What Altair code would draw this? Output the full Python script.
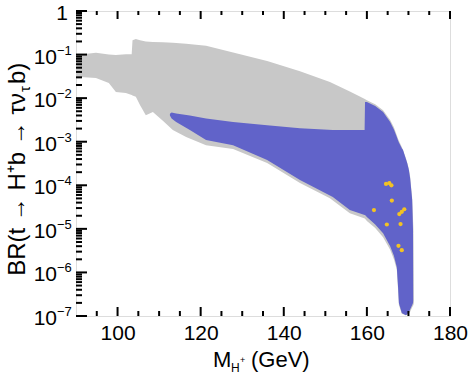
import altair as alt
import pandas as pd

# ---- data (x in GeV, y as log10 of BR) ----
gray_m = [90.0, 94.8, 97.9, 99.6, 102.0, 103.4, 103.6, 104.4, 105.4, 106.8, 108.5, 110.9,
          113.3, 116.5, 121.3, 127.8, 136.0, 143.9, 151.1, 155.9, 159.5, 160.0, 162.0,
          163.9, 165.6, 166.5, 167.2, 167.5, 167.7, 168.4, 169.4, 170.1, 170.4, 170.9,
          171.2, 171.3]
gray_lo = [-1.51, -1.54, -1.65, -1.86, -1.88, -1.93, -1.94, -1.97, -2.16, -2.39, -2.32, -2.52,
           -2.73, -2.89, -3.08, -3.17, -3.49, -3.95, -4.30, -4.64, -4.76, -4.82, -4.98,
           -5.19, -5.48, -5.70, -5.94, -6.40, -6.75, -6.95, -6.98, -6.95, -6.90, -6.80,
           -6.75, -6.70]
gray_hi = [-1.01, -0.96, -1.00, -1.01, -0.99, -0.99, -0.67, -0.64, -0.67, -0.70, -0.71, -0.72,
           -0.73, -0.75, -0.80, -0.95, -1.15, -1.38, -1.63, -1.85, -2.02, -2.05, -2.14,
           -2.28, -2.50, -2.67, -2.85, -2.93, -2.98, -3.12, -3.38, -3.62, -3.80, -4.30,
           -5.00, -6.60]

blue_m = [112.6, 113.0, 114.1, 117.4, 121.3, 127.8, 136.0, 143.9, 151.8, 155.9, 159.45, 159.55,
          160.0, 162.0, 163.9, 165.6, 166.5, 167.2, 167.5, 167.7, 168.4, 168.7, 169.4, 169.7,
          170.1, 170.4, 170.9, 171.1, 171.15]
blue_lo = [-2.40, -2.47, -2.55, -2.73, -2.96, -3.08, -3.42, -3.88, -4.27, -4.57, -4.68, -4.68,
           -4.73, -4.90, -5.10, -5.40, -5.62, -5.88, -6.33, -6.70, -6.93, -6.95, -6.98, -6.96,
           -6.91, -6.85, -6.75, -6.70, -6.65]
blue_hi = [-2.36, -2.33, -2.35, -2.40, -2.47, -2.55, -2.62, -2.69, -2.73, -2.73, -2.73, -2.09,
           -2.09, -2.18, -2.32, -2.55, -2.72, -2.89, -2.97, -3.02, -3.15, -3.19, -3.40, -3.49,
           -3.65, -3.83, -4.34, -5.03, -6.60]

pts_m = [164.6, 165.4, 165.9, 166.0, 161.7, 167.8, 168.4, 169.0, 164.8, 168.1, 167.6, 168.4]
pts_lg = [-3.97, -3.95, -4.00, -4.35, -4.57, -4.66, -4.61, -4.55, -4.90, -4.89, -5.39, -5.49]

x_major = [100, 120, 140, 160, 180]
x_minor = [95, 105, 110, 115, 125, 130, 135, 145, 150, 155, 165, 170, 175]
y_major = [1e-7, 1e-6, 1e-5, 1e-4, 1e-3, 1e-2, 1e-1, 1.0]
y_minor = [j * 10.0 ** (-k) for k in range(1, 8) for j in range(2, 10)]
y_exp_labels = ["−7", "−6", "−5", "−4", "−3", "−2", "−1"]

gray_df = pd.DataFrame({"m": gray_m, "lo": [10 ** v for v in gray_lo], "hi": [10 ** v for v in gray_hi]})
blue_df = pd.DataFrame({"m": blue_m, "lo": [10 ** v for v in blue_lo], "hi": [10 ** v for v in blue_hi]})
pts_df = pd.DataFrame({"m": pts_m, "br": [10 ** v for v in pts_lg]})
ylab_df = pd.DataFrame({"br": y_major[:-1], "e": y_exp_labels})
one_df = pd.DataFrame({"br": [y_major[-1]]})

W, H = 374, 305
FONT = "Liberation Sans"
xs = alt.Scale(domain=[90, 180], nice=False, zero=False)
ys = alt.Scale(type="log", domain=[1e-7, 1], nice=False)
xax = alt.Axis(values=x_major, title=None, grid=False, ticks=False, domain=False,
               labelFontSize=21, labelFont=FONT, labelColor="black", labelPadding=6,
               labelFlush=False)


def X(f):
    return alt.X(f, type="quantitative", scale=xs, axis=xax)


def Y(f):
    return alt.Y(f, type="quantitative", scale=ys, axis=None)


gray = alt.Chart(gray_df).mark_area(color="#c8c8c8", opacity=1).encode(
    x=X("m"), y=Y("lo"), y2="hi")
blue = alt.Chart(blue_df).mark_area(color="#6163c9", opacity=1).encode(
    x=X("m"), y=Y("lo"), y2="hi")
pts = alt.Chart(pts_df).mark_circle(color="#f3c223", opacity=1, size=18).encode(
    x=X("m"), y=Y("br"))

tk = dict(color="black", strokeWidth=2)
left_major = alt.Chart(pd.DataFrame({"br": y_major})).mark_rule(**tk).encode(
    y=Y("br"), x=alt.value(0), x2=alt.value(11))
left_minor = alt.Chart(pd.DataFrame({"br": y_minor})).mark_rule(**tk).encode(
    y=Y("br"), x=alt.value(0), x2=alt.value(6))
bot_major = alt.Chart(pd.DataFrame({"m": x_major})).mark_rule(**tk).encode(
    x=X("m"), y=alt.value(H), y2=alt.value(H - 9))
bot_minor = alt.Chart(pd.DataFrame({"m": x_minor})).mark_rule(**tk).encode(
    x=X("m"), y=alt.value(H), y2=alt.value(H - 5))
top_major = alt.Chart(pd.DataFrame({"m": x_major})).mark_rule(**tk).encode(
    x=X("m"), y=alt.value(0), y2=alt.value(8))
top_minor = alt.Chart(pd.DataFrame({"m": x_minor})).mark_rule(**tk).encode(
    x=X("m"), y=alt.value(0), y2=alt.value(4))

# y tick labels: "10" with superscript exponent
ylab_base = alt.Chart(ylab_df).mark_text(text="10", font=FONT, fontSize=21, color="black",
                                         align="right", baseline="middle", dy=3).encode(
    y=Y("br"), x=alt.value(-19))
ylab_exp = alt.Chart(ylab_df).mark_text(font=FONT, fontSize=13, color="black",
                                        align="left", baseline="middle", dy=-4).encode(
    y=Y("br"), x=alt.value(-19), text="e:N")
ylab_one = alt.Chart(one_df).mark_text(text="1", font=FONT, fontSize=21, color="black",
                                       align="right", baseline="middle", dy=3).encode(
    y=Y("br"), x=alt.value(-8))

one = pd.DataFrame({"k": [0]})


def txt(s, x, y, size, angle=0, align="left", baseline="alphabetic"):
    return alt.Chart(one).mark_text(text=s, font=FONT, fontSize=size, color="black",
                                    angle=angle, align=align, baseline=baseline).encode(
        x=alt.value(x), y=alt.value(y))


# y-axis title: BR(t → H⁺b → τν_τ b)
yt1 = txt("BR(t → H⁺b → τν", -51, 82, 24, angle=270, align="right")
yt2 = txt("τ", -46, 81, 15, angle=270, align="left")
yt3 = txt(" b)", -51, 73, 24, angle=270, align="left")
# x-axis title: M_{H⁺} (GeV)
xt1 = txt("M", 137, 356, 22)
xt2 = txt("H", 155, 361, 12)
xt3 = txt("+", 164, 352, 9)
xt4 = txt("(GeV)", 175, 356, 22)

chart = alt.layer(gray, blue, pts, left_major, left_minor, bot_major, bot_minor,
                  top_major, top_minor, ylab_base, ylab_exp, ylab_one,
                  yt1, yt2, yt3, xt1, xt2, xt3, xt4).properties(
    width=W, height=H,
    autosize=alt.AutoSizeParams(type="none"),
    padding={"left": 76, "top": 11, "right": 24, "bottom": 60},
).configure_view(stroke="black", strokeWidth=2).configure(background="white")

chart.save("out.html", embed_options={"renderer": "svg", "actions": False})
